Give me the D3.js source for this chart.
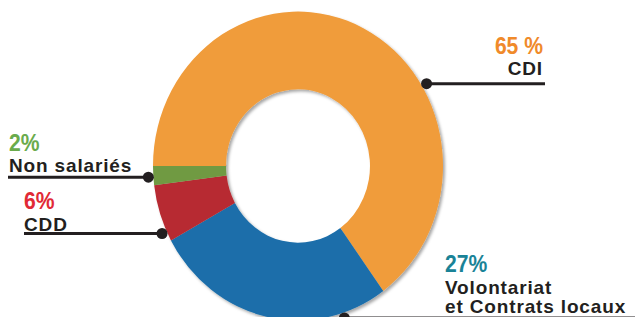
<!DOCTYPE html>
<html>
<head>
<meta charset="utf-8">
<script src="https://cdn.jsdelivr.net/npm/d3@7"></script>
<style>
  body { margin: 0; background: #fff; }
  .pct { font-family: "Liberation Sans", Arial, sans-serif; font-weight: bold; font-size: 24px; }
  .lbl { font-family: "Liberation Sans", Arial, sans-serif; font-weight: bold; font-size: 19px; fill: #231f20; letter-spacing: 0.85px; }
</style>
</head>
<body>
<svg id="chart"></svg>
<script>
const width = 635;
const height = 317;

// data
const categories = ['CDI', 'Volontariat et Contrats locaux', 'CDD', 'Non salariés'];
const values = [65, 27, 6, 2];
const percentLabels = ['65 %', '27%', '6%', '2%'];
const sliceColors = ['#f09c3b', '#1b6eaa', '#b72a31', '#6f9a43'];
const textColors = ['#f08a2a', '#1a8397', '#e12a36', '#6aab4c'];

// label layout: angle of the pin on the ring (deg), text position, line end
const labelLayout = [
  { angle: 59, x: 543, y: 53.5, anchor: 'end', lines: ['CDI'], lineEnd: 545 },
  { angle: 162, x: 445, y: 272, anchor: 'start', lines: ['Volontariat', 'et Contrats locaux'], lineEnd: 640 },
  { angle: 245, x: 24, y: 209, anchor: 'start', lines: ['CDD'], lineEnd: 24 },
  { angle: 266, x: 9, y: 150.5, anchor: 'start', lines: ['Non salariés'], lineEnd: 8 }
];

const cx = 298, cy = 166, stretch = 1.065;
const outerR = 145, innerR = 72, pinR = 150;

const svg = d3.select('#chart')
  .attr('width', width)
  .attr('height', height);

const defs = svg.append('defs');
defs.append('filter')
  .attr('id', 'shadow')
  .attr('x', '-10%').attr('y', '-10%')
  .attr('width', '120%').attr('height', '120%')
  .append('feDropShadow')
  .attr('dx', 2).attr('dy', 2)
  .attr('stdDeviation', 1.5)
  .attr('flood-color', '#000')
  .attr('flood-opacity', 0.35);

const pie = d3.pie()
  .sort(null)
  .startAngle(-Math.PI / 2)
  .endAngle(Math.PI * 1.5);

const arc = d3.arc()
  .innerRadius(innerR)
  .outerRadius(outerR);

const arcs = pie(values);

svg.append('g')
  .attr('transform', `translate(${cx},${cy}) scale(1,${stretch})`)
  .attr('filter', 'url(#shadow)')
  .selectAll('path')
  .data(arcs)
  .enter()
    .append('path')
    .attr('d', arc)
    .attr('fill', (d, i) => sliceColors[i]);

// pins and leader lines
const pinPos = a => {
  const r = a * Math.PI / 180;
  return [cx + pinR * Math.sin(r), cy - pinR * Math.cos(r) * stretch];
};

const labels = svg.append('g');

labelLayout.forEach((l, i) => {
  const [px, py] = pinPos(l.angle);
  labels.append('line')
    .attr('x1', px).attr('y1', py)
    .attr('x2', l.lineEnd).attr('y2', py)
    .attr('stroke', '#231f20')
    .attr('stroke-width', 3);
  labels.append('circle')
    .attr('cx', px).attr('cy', py)
    .attr('r', 5.5)
    .attr('fill', '#231f20');

  // condensed look for the percentages
  labels.append('text')
    .classed('pct', true)
    .attr('transform', `translate(${l.x},${l.y}) scale(0.88,1)`)
    .attr('text-anchor', l.anchor)
    .attr('fill', textColors[i])
    .text(percentLabels[i]);

  l.lines.forEach((t, j) => {
    labels.append('text')
      .classed('lbl', true)
      .attr('x', l.x).attr('y', l.y + 21.5 + j * 19.5)
      .attr('text-anchor', l.anchor)
      .text(t);
  });
});
</script>
</body>
</html>
